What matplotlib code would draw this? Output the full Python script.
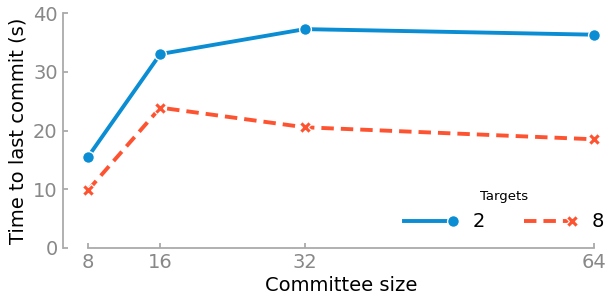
import matplotlib
matplotlib.use("Agg")
import matplotlib.pyplot as plt
from matplotlib.lines import Line2D
from matplotlib.legend_handler import HandlerLine2D

# committee sizes and time to last commit (s) per target count
committee = [8, 16, 32, 64]
t_targets2 = [15.5, 33.05, 37.3, 36.35]
t_targets8 = [9.8, 23.9, 20.55, 18.5]
xticks = [8, 16, 32, 64]
yticks = [0, 10, 20, 30, 40]

blue = '#0a8dd3'
red = '#fe5331'
grey = '#888888'


class MarkerAtEnd(HandlerLine2D):
    # line across the whole handle, marker only at its right end
    def create_artists(self, legend, orig_handle, xdescent, ydescent, width, height, fontsize, trans):
        y = height / 2 - ydescent
        line = Line2D([-xdescent, -xdescent + width], [y, y])
        self.update_prop(line, orig_handle, legend)
        line.set_marker('None')
        mark = Line2D([-xdescent + width], [y])
        self.update_prop(mark, orig_handle, legend)
        mark.set_linestyle('None')
        line.set_transform(trans)
        mark.set_transform(trans)
        return [line, mark]


fig = plt.figure(figsize=(6.06, 3.01), dpi=100)
ax = fig.add_axes([88 / 606, 1 - 247.7 / 301, (594 - 88) / 606, (247.7 - 13.3) / 301])

ax.plot(committee, t_targets2, color=blue, lw=2.8, marker='o', ms=8.5,
        mec='white', mew=1, clip_on=False, zorder=3)
ax.plot(committee, t_targets8, color=red, lw=2.8, ls=(0, (3.2, 1.8)), marker='X', ms=8,
        mec='white', mew=0.8, clip_on=False, zorder=3)

ax.set_xlim(8, 64)
ax.set_ylim(0, 40)
ax.set_xticks(xticks)
ax.set_yticks(yticks)
ax.set_xlabel('Committee size', fontsize=14, labelpad=3)
ax.set_ylabel('Time to last commit (s)', fontsize=14, labelpad=4)

for side in ['top', 'right']:
    ax.spines[side].set_visible(False)
for side in ['left', 'bottom']:
    ax.spines[side].set_color('#aaaaaa')
    ax.spines[side].set_linewidth(1.3)
ax.spines['left'].set_position(('outward', 17.8))
ax.tick_params(direction='in', colors='#aaaaaa', labelcolor=grey, labelsize=14,
               length=3.6, width=1.3, pad=4)

h2 = Line2D([], [], color=blue, lw=2.8, marker='o', ms=8.5, mec='white', mew=1)
h8 = Line2D([], [], color=red, lw=2.8, ls=(0, (3.2, 1.8)), marker='X', ms=8, mec='white', mew=0.8)
leg = ax.legend([h2, h8], ['2', '8'], title='Targets', ncol=2, frameon=False,
                handler_map={Line2D: MarkerAtEnd()},
                handlelength=2.5, columnspacing=2.0, handletextpad=1.0,
                fontsize=14, title_fontsize=9.5, loc='lower right',
                bbox_to_anchor=(1.043, 0.02), borderaxespad=0.2)

fig.savefig('out.png', dpi=100)
